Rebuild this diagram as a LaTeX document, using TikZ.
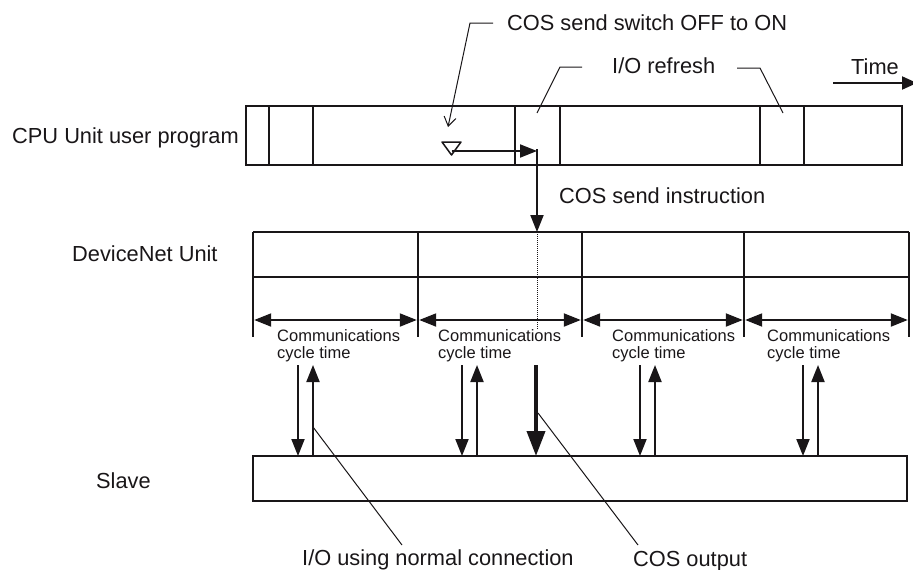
\documentclass[tikz,border=0pt]{standalone}
\usepackage{fontspec}
\setmainfont{Liberation Sans}
\usetikzlibrary{arrows.meta}
\definecolor{ink}{RGB}{25,22,24}
\begin{document}
\begin{tikzpicture}[x=1pt,y=-1pt,
  box/.style={line width=2.2pt, draw=ink},
  divline/.style={line width=2.2pt, draw=ink},
  arr/.style={line width=2pt, draw=ink, fill=ink, -{Triangle[length=17pt,width=13pt]}},
  dblarr/.style={line width=2pt, draw=ink, fill=ink, {Triangle[length=17pt,width=13pt]}-{Triangle[length=17pt,width=13pt]}},
  bigarr/.style={line width=3.8pt, draw=ink, fill=ink, -{Triangle[length=25pt,width=18pt]}},
  leader/.style={line width=1pt, draw=ink},
  lbl/.style={inner sep=0pt, anchor=base west, text=ink, font=\fontsize{21.8}{26}\selectfont},
  small/.style={inner sep=0pt, anchor=north west, align=left, text=ink, font=\fontsize{16.5}{17}\selectfont}
]
\useasboundingbox (0,0) rectangle (913,570);

% ---------- labels ----------
\node[lbl] (lcpu) at (12,143) {CPU Unit user program};
\node[lbl] (ldn) at (72,261) {DeviceNet Unit};
\node[lbl] (lslave) at (96,488) {Slave};
\node[lbl] (lsw) at (507,30) {COS send switch OFF to ON};
\node[lbl] (lio) at (612,73) {I/O refresh};
\node[lbl] (ltime) at (851,74) {Time};
\node[lbl] (lcmd) at (559,203) {COS send instruction};
\node[lbl] (lnorm) at (302,565) {I/O using normal connection};
\node[lbl] (lcos) at (633,566) {COS output};

% ---------- CPU Unit user program ----------
\draw[box] (246,106) rectangle (902,165);
\foreach \x in {269,313,515,560,760,804}
  \draw[divline] (\x,106) -- (\x,165);

% COS send switch marker (open triangle)
\draw[line width=1.5pt, draw=ink, line join=round] (442,142) -- (461,142) -- (451.5,155) -- cycle;
\coordinate (trig) at (451.5,151);
\coordinate (ioa) at (537,151);
\coordinate (cmdtop) at (537,149);
\coordinate (cmdbot) at (537,232);
\draw[arr] (trig) -- (ioa);
\draw[arr] (cmdtop) -- (cmdbot);

% Time arrow
\coordinate (t0) at (833,83);
\coordinate (t1) at (917,83);
\draw[line width=2pt, draw=ink, fill=ink, -{Triangle[length=15pt,width=13pt]}] (t0) -- (t1);

% ---------- leaders ----------
\coordinate (sw0) at (493,23);
\coordinate (sw1) at (470,23);
\coordinate (sw2) at (448,127);
\draw[leader, -{Straight Barb[length=9pt,width=12pt]}] (sw0) -- (sw1) -- (sw2);

\coordinate (ra0) at (582,67);
\coordinate (ra1) at (560,67);
\coordinate (ra2) at (537,113);
\draw[leader] (ra0) -- (ra1) -- (ra2);
\coordinate (rb0) at (737,68);
\coordinate (rb1) at (760,68);
\coordinate (rb2) at (783,113);
\draw[leader] (rb0) -- (rb1) -- (rb2);

% ---------- DeviceNet Unit ----------
\draw[divline] (253,232) -- (909,232);
\draw[divline] (253,277) -- (909,277);
\foreach \x in {253,418,582,744,909}
  \draw[divline] (\x,232) -- (\x,337);
\draw[line width=1pt, draw=ink, densely dotted] (cmdbot) -- (537,330);

\foreach \a/\b in {253/418,418/582,582/744,744/909}
  \draw[dblarr] (\a+1.2,320) -- (\b-1.2,320);

\foreach \x in {277,438,612,767}
  \node[small] at (\x,329) {Communications\\cycle time};

% ---------- Slave ----------
\draw[box] (253,456) rectangle (907,501);

\foreach \x in {298,462,640,803}{
  \draw[arr] (\x,365) -- (\x,456);
  \draw[arr] (\x+15,456) -- (\x+15,365);
}
\coordinate (cosa) at (536,365);
\coordinate (cosb) at (536,456);
\draw[bigarr] (cosa) -- (cosb);

\coordinate (n0) at (313,427);
\coordinate (n1) at (402,545);
\draw[leader] (n0) -- (n1);
\coordinate (c0) at (538,413);
\coordinate (c1) at (638,545);
\draw[leader] (c0) -- (c1);
\end{tikzpicture}
\end{document}
